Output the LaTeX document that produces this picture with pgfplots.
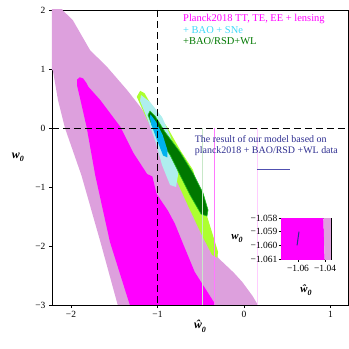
\documentclass[border=0pt]{standalone}
\usepackage{fontspec}
\setmainfont{Liberation Serif}
\usepackage{pgfplots}
\pgfplotsset{compat=1.18}
\definecolor{plumc}{HTML}{DDA0DD}
\definecolor{magc}{HTML}{FF00FF}
\definecolor{gyc}{HTML}{ADFF2F}
\definecolor{ptc}{HTML}{AFEEEE}
\definecolor{skyc}{HTML}{00B2EE}
\definecolor{dgc}{HTML}{007800}
\definecolor{limec}{HTML}{20C020}
\definecolor{navyc}{HTML}{2E2E90}
\definecolor{navyl}{HTML}{5050B0}
\definecolor{cyantxt}{HTML}{40D8F8}
\newcommand{\wlab}{{\bfseries\itshape w\raisebox{-0.55ex}{\fontsize{8}{8}\selectfont 0}}}
\newcommand{\whlab}{{\bfseries\itshape ŵ\raisebox{-0.75ex}{\fontsize{8}{8}\selectfont 0}}}
\begin{document}
\begin{tikzpicture}
\useasboundingbox (-52bp,-44bp) rectangle (297bp,305bp);
\begin{axis}[
  at={(0,0)},anchor=south west,
  scale only axis,width=296bp,height=295bp,
  xmin=-2.2197,xmax=1.202,ymin=-3,ymax=2,
  xtick={-2,-1,0,1},xticklabels={−2,−1,0,1},
  ytick={-3,-2,-1,0,1,2},yticklabels={−3,−2,−1,0,1,2},
  tick align=outside,xtick pos=bottom,ytick pos=left,
  major tick length=3bp,
  tick label style={font=\fontsize{9.5}{10}\selectfont},
  axis line style={black,line width=0.7pt},
  every tick/.style={black,line width=0.7pt},
  every axis x label/.style={at={(axis description cs:0.5,-0.072)},anchor=center},
  every axis y label/.style={at={(axis description cs:-0.115,0.5)},anchor=center},
  xlabel={\fontsize{12}{12}\selectfont\whlab},
  ylabel={\fontsize{12}{12}\selectfont\wlab},
]
% outer plum contour
\addplot[draw=none,fill=plumc] coordinates {
(-2.30,2.10) (-2.09,2.10) (-2.10,2.0) (-1.98,1.83) (-1.78,1.32) (-1.58,1.03)
(-1.35,0.64) (-1.20,0.36) (-1.05,0.05) (-0.90,-0.30) (-0.74,-0.63) (-0.55,-1.10)
(-0.42,-1.60) (-0.30,-2.20) (-0.12,-2.45) (-0.02,-2.61) (0.10,-2.85) (0.16,-3.0)
(0.17,-3.1) (-1.47,-3.1) (-1.46,-3.0) (-1.66,-1.93) (-1.88,-0.80) (-2.07,0.0)
(-2.15,0.47) (-2.21,0.98) (-2.30,1.0)} --cycle;
% magenta contour
\addplot[draw=none,fill=magc] coordinates {
(-1.90,0.86) (-1.86,0.84) (-1.82,0.76) (-1.80,0.70) (-1.66,0.47) (-1.43,0.02)
(-1.28,-0.42) (-1.12,-0.78) (-1.06,-0.82) (-1.01,-1.12) (-0.88,-1.40) (-0.80,-1.62)
(-0.70,-1.98) (-0.57,-2.44) (-0.34,-2.97) (-0.33,-3.1) (-1.33,-3.1) (-1.32,-3.0)
(-1.55,-1.93) (-1.72,-0.80) (-1.82,0.02) (-1.89,0.47) (-1.93,0.72) (-1.93,0.82)} --cycle;
% green-yellow contour
\addplot[draw=none,fill=gyc] coordinates {
(-1.20,0.63) (-1.15,0.59) (-1.06,0.36) (-0.89,0.02) (-0.74,-0.37) (-0.59,-0.71)
(-0.51,-1.14) (-0.42,-1.53) (-0.30,-2.10) (-0.31,-2.20) (-0.37,-2.15) (-0.49,-1.81)
(-0.65,-1.31) (-0.83,-0.73) (-1.01,-0.15) (-1.12,0.14) (-1.24,0.53)} --cycle;
% pale turquoise contour
\addplot[draw=none,fill=ptc] coordinates {
(-1.191,0.559) (-1.087,0.441) (-0.948,0.186) (-0.855,-0.119) (-0.786,-0.458)
(-0.763,-0.797) (-0.786,-1.0) (-0.855,-0.966) (-0.948,-0.627) (-1.029,-0.203)
(-1.121,0.169) (-1.202,0.458)} --cycle;
% dark green contour
\addplot[draw=limec,line width=0.6pt,fill=dgc] coordinates {
(-1.087,0.288) (-1.029,0.203) (-0.913,-0.068) (-0.740,-0.407) (-0.590,-0.763)
(-0.474,-1.102) (-0.416,-1.390) (-0.428,-1.492) (-0.497,-1.458) (-0.624,-1.136)
(-0.740,-0.797) (-0.855,-0.458) (-0.971,-0.203) (-1.064,0.051) (-1.110,0.220)} --cycle;
% sky blue contour
\addplot[draw=none,fill=skyc] coordinates {
(-1.080,0.230) (-1.017,0.102) (-0.940,-0.119) (-0.886,-0.373) (-0.886,-0.500)
(-0.936,-0.465) (-1.006,-0.203) (-1.070,0.051) (-1.090,0.186)} --cycle;
% faint vertical lines
\addplot[draw={rgb,255:red,200;green,232;blue,200},line width=0.5pt] coordinates {(-0.485,0) (-0.485,-3)};
\addplot[draw={rgb,255:red,255;green,120;blue,255},line width=0.5pt] coordinates {(-0.347,0) (-0.347,-3)};
\addplot[draw={rgb,255:red,255;green,205;blue,255},line width=0.5pt] coordinates {(0.150,0) (0.150,-3)};
% dashed reference lines
\addplot[black,line width=1pt,dash pattern=on 7bp off 4bp] coordinates {(-1,2) (-1,-3)};
\addplot[black,line width=1pt,dash pattern=on 7bp off 4bp] coordinates {(-2.22,0) (1.21,0)};
% result marker line
\addplot[navyl,line width=1pt] coordinates {(0.15,-0.695) (0.53,-0.695)};
\node[anchor=north west,align=left,inner sep=0pt,font=\fontsize{10.5}{11.5}\selectfont]
  at (axis cs:-0.705,1.93)
  {\textcolor{magc}{Planck2018 TT, TE, EE + lensing}\\
   \textcolor{cyantxt}{+ BAO + SNe}\\
   \textcolor{dgc}{+BAO/RSD+WL}};
\node[anchor=north west,align=left,inner sep=0pt,text=navyc,font=\fontsize{10}{11}\selectfont]
  at (axis cs:-0.57,-0.12)
  {The result of our model based on\\planck2018 + BAO/RSD +WL data};
\end{axis}
\begin{axis}[
  at={(229bp,46bp)},anchor=south west,
  scale only axis,width=50bp,height=41bp,
  xmin=-1.0726,xmax=-1.0356,ymin=-1.061,ymax=-1.058,
  xtick={-1.06,-1.04},xticklabels={−1.06,−1.04},
  ytick={-1.061,-1.060,-1.059,-1.058},yticklabels={−1.061,−1.060,−1.059,−1.058},
  tick align=outside,xtick pos=bottom,ytick pos=left,
  major tick length=2.5bp,
  tick label style={font=\fontsize{9.5}{10}\selectfont},
  yticklabel style={inner sep=1pt},
  axis line style={black,line width=0.7pt},
  every tick/.style={black,line width=0.7pt},
  every axis x label/.style={at={(axis description cs:0.5,-0.76)},anchor=center},
  every axis y label/.style={at={(axis description cs:-0.88,0.5)},anchor=center},
  xlabel={\fontsize{11}{11}\selectfont\whlab},
  ylabel={\fontsize{11}{11}\selectfont\wlab},
]
\addplot[draw=none,fill=magc] coordinates {(-1.08,-1.062) (-1.0400,-1.062) (-1.0415,-1.057) (-1.08,-1.057)} --cycle;
\addplot[draw=none,fill=plumc] coordinates {(-1.0400,-1.062) (-1.03,-1.062) (-1.03,-1.057) (-1.0415,-1.057)} --cycle;
\addplot[navyc,line width=1pt] coordinates {(-1.0607,-1.0600) (-1.0593,-1.0590)};
\end{axis}
\end{tikzpicture}
\end{document}
